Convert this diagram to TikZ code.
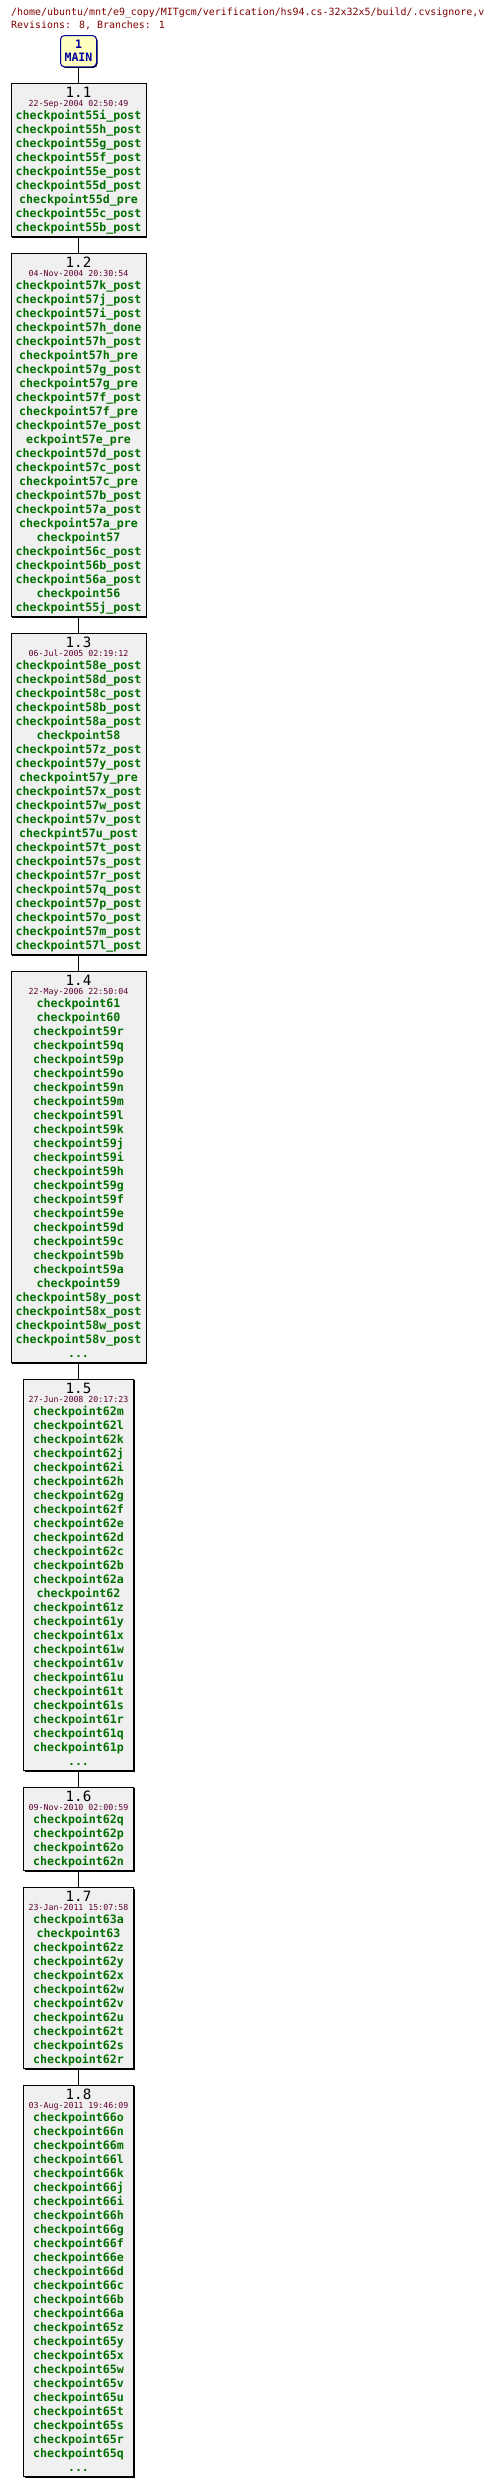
\documentclass[tikz,border=0pt]{standalone}
\usepackage{fontspec}
\newfontfamily\dvm{DejaVu Sans Mono}
\usetikzlibrary{shadows}
\definecolor{titlered}{HTML}{800000}
\definecolor{datered}{HTML}{600030}
\definecolor{taggreen}{HTML}{007000}
\definecolor{boxgray}{HTML}{F0F0F0}
\definecolor{brfill}{HTML}{FFFFC0}
\definecolor{brblue}{HTML}{0000A0}
\newcommand\mkrev[7]{%
  \node[revbox, minimum width=#2pt, minimum height=#4pt, anchor=north] (#1) at (78.5,#3+0.5) {};
  \node[revlab] (#1-rev) at (78.5,#3+15.3) {#5};
  \node[datelab] (#1-date) at (78.5,#3+24.4) {#6};
  \foreach \t [count=\i from 0] in {#7} \node[taglab] (#1-t\i) at (78.5,#3+36.7+14*\i) {\t};
}
\begin{document}
\begin{tikzpicture}[x=1pt,y=-1pt,
  revbox/.style={draw=black, line width=1pt, fill=boxgray, inner sep=0pt,
    drop shadow={shadow xshift=1pt, shadow yshift=-1pt, fill=black, opacity=1}},
  brbox/.style={draw=brblue, line width=1pt, fill=brfill, rounded corners=4pt, inner sep=0pt,
    minimum width=36pt, minimum height=31.3pt,
    drop shadow={shadow xshift=1pt, shadow yshift=-1pt, fill=black, opacity=1}},
  revlab/.style={anchor=base, inner sep=0pt, text=black, font=\dvm\fontsize{14.2}{16}\selectfont},
  datelab/.style={anchor=base, inner sep=0pt, text=datered, font=\dvm\fontsize{8.28}{10}\selectfont},
  taglab/.style={anchor=base, inner sep=0pt, text=taggreen, font=\dvm\bfseries\fontsize{11.6}{14}\selectfont},
  brlab/.style={anchor=base, inner sep=0pt, text=brblue, font=\dvm\bfseries\fontsize{11.6}{14}\selectfont},
  titlelab/.style={anchor=base west, inner sep=0pt, text=titlered, font=\dvm\fontsize{9.95}{12}\selectfont},
  conn/.style={draw=black, line width=1pt}]
\useasboundingbox[fill=white] (0,0) rectangle (494,2487);
\node[titlelab] (title) at (11,15) {/home/ubuntu/mnt/e9\_copy/MITgcm/verification/hs94.cs-32x32x5/build/.cvsignore,v};
\node[titlelab] (revs) at (11,28) {Revisions: 8, Branches: 1};
\node[brbox] (main) at (78.5,51.2) {};
\node[brlab] (main-num) at (78.5,48.3) {1};
\node[brlab] (main-name) at (78.5,61.7) {MAIN};
\mkrev{b11}{135}{82.3}{153.4}{1.1}{22-Sep-2004 02:50:49}{checkpoint55i\_post,checkpoint55h\_post,checkpoint55g\_post,checkpoint55f\_post,checkpoint55e\_post,checkpoint55d\_post,checkpoint55d\_pre,checkpoint55c\_post,checkpoint55b\_post}
\mkrev{b12}{135}{252.3}{363.4}{1.2}{04-Nov-2004 20:30:54}{checkpoint57k\_post,checkpoint57j\_post,checkpoint57i\_post,checkpoint57h\_done,checkpoint57h\_post,checkpoint57h\_pre,checkpoint57g\_post,checkpoint57g\_pre,checkpoint57f\_post,checkpoint57f\_pre,checkpoint57e\_post,eckpoint57e\_pre,checkpoint57d\_post,checkpoint57c\_post,checkpoint57c\_pre,checkpoint57b\_post,checkpoint57a\_post,checkpoint57a\_pre,checkpoint57,checkpoint56c\_post,checkpoint56b\_post,checkpoint56a\_post,checkpoint56,checkpoint55j\_post}
\mkrev{b13}{135}{632.3}{321.4}{1.3}{06-Jul-2005 02:19:12}{checkpoint58e\_post,checkpoint58d\_post,checkpoint58c\_post,checkpoint58b\_post,checkpoint58a\_post,checkpoint58,checkpoint57z\_post,checkpoint57y\_post,checkpoint57y\_pre,checkpoint57x\_post,checkpoint57w\_post,checkpoint57v\_post,checkpint57u\_post,checkpoint57t\_post,checkpoint57s\_post,checkpoint57r\_post,checkpoint57q\_post,checkpoint57p\_post,checkpoint57o\_post,checkpoint57m\_post,checkpoint57l\_post}
\mkrev{b14}{135}{970.3}{391.4}{1.4}{22-May-2006 22:50:04}{checkpoint61,checkpoint60,checkpoint59r,checkpoint59q,checkpoint59p,checkpoint59o,checkpoint59n,checkpoint59m,checkpoint59l,checkpoint59k,checkpoint59j,checkpoint59i,checkpoint59h,checkpoint59g,checkpoint59f,checkpoint59e,checkpoint59d,checkpoint59c,checkpoint59b,checkpoint59a,checkpoint59,checkpoint58y\_post,checkpoint58x\_post,checkpoint58w\_post,checkpoint58v\_post}
\node[taglab] (b14-dots) at (78.5,1357.5) {...};
\mkrev{b15}{110}{1378.3}{391.4}{1.5}{27-Jun-2008 20:17:23}{checkpoint62m,checkpoint62l,checkpoint62k,checkpoint62j,checkpoint62i,checkpoint62h,checkpoint62g,checkpoint62f,checkpoint62e,checkpoint62d,checkpoint62c,checkpoint62b,checkpoint62a,checkpoint62,checkpoint61z,checkpoint61y,checkpoint61x,checkpoint61w,checkpoint61v,checkpoint61u,checkpoint61t,checkpoint61s,checkpoint61r,checkpoint61q,checkpoint61p}
\node[taglab] (b15-dots) at (78.5,1765.5) {...};
\mkrev{b16}{110}{1786.3}{83.4}{1.6}{09-Nov-2010 02:00:59}{checkpoint62q,checkpoint62p,checkpoint62o,checkpoint62n}
\mkrev{b17}{110}{1886.5}{181.4}{1.7}{23-Jan-2011 15:07:58}{checkpoint63a,checkpoint63,checkpoint62z,checkpoint62y,checkpoint62x,checkpoint62w,checkpoint62v,checkpoint62u,checkpoint62t,checkpoint62s,checkpoint62r}
\mkrev{b18}{110}{2084.3}{391.4}{1.8}{03-Aug-2011 19:46:09}{checkpoint66o,checkpoint66n,checkpoint66m,checkpoint66l,checkpoint66k,checkpoint66j,checkpoint66i,checkpoint66h,checkpoint66g,checkpoint66f,checkpoint66e,checkpoint66d,checkpoint66c,checkpoint66b,checkpoint66a,checkpoint65z,checkpoint65y,checkpoint65x,checkpoint65w,checkpoint65v,checkpoint65u,checkpoint65t,checkpoint65s,checkpoint65r,checkpoint65q}
\node[taglab] (b18-dots) at (78.5,2471.5) {...};
\draw[conn] (main) -- (b11);
\draw[conn] (b11) -- (b12);
\draw[conn] (b12) -- (b13);
\draw[conn] (b13) -- (b14);
\draw[conn] (b14) -- (b15);
\draw[conn] (b15) -- (b16);
\draw[conn] (b16) -- (b17);
\draw[conn] (b17) -- (b18);
\end{tikzpicture}
\end{document}
